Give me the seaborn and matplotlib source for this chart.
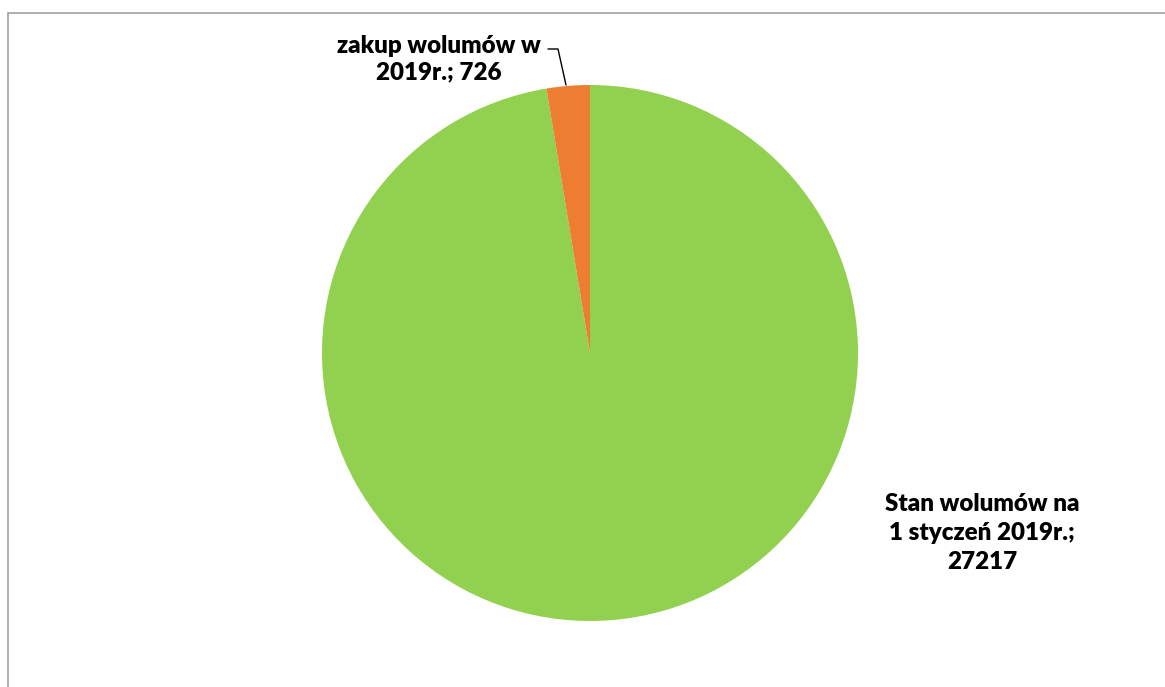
import matplotlib
matplotlib.use("Agg")
import matplotlib.pyplot as plt
import seaborn as sns
from matplotlib.patches import Rectangle

sns.set_theme(style="white")
plt.rcParams['font.family'] = ['Lato', 'DejaVu Sans']

categories = ["Stan wolumów na\n1 styczeń 2019r.;\n27217", "zakup wolumów w\n2019r.; 726"]
values = [27217, 726]
colors = ["#92D050", "#ED7D31"]

W, H = 1165, 687
fig = plt.figure(figsize=(W / 100, H / 100), dpi=100)
fig.patch.set_facecolor("white")

cx, cy, r = 590, 353, 268
ax = fig.add_axes([(cx - r) / W, (H - cy - r) / H, 2 * r / W, 2 * r / H])
ax.pie(values, colors=colors, startangle=90, counterclock=False,
       wedgeprops=dict(linewidth=0))
ax.set_xlim(-1, 1)
ax.set_ylim(-1, 1)
ax.set_axis_off()

def d(px, py):
    return ((px - cx) / r, (cy - py) / r)

# labels
tx, ty = d(439, 59)
ax.text(tx, ty, categories[1], ha="center", va="center", fontsize=17.4,
        fontweight="heavy", color="black", linespacing=1.22, clip_on=False)
sx, sy = d(982, 533)
ax.text(sx, sy, categories[0], ha="center", va="center", fontsize=17.4,
        fontweight="heavy", color="black", linespacing=1.38, clip_on=False)

p1, p2, p3 = d(548, 49), d(558, 49), d(566, 85)
ax.plot([p1[0], p2[0], p3[0]], [p1[1], p2[1], p3[1]], color="black",
        lw=1.0, clip_on=False)

# chart border
fig.patches.append(Rectangle((8 / W, -0.05), 1.2, (H - 13) / H + 0.05,
                             transform=fig.transFigure, fill=False,
                             edgecolor="#A0A0A0", linewidth=1.2))

fig.savefig("out.png", dpi=100)
